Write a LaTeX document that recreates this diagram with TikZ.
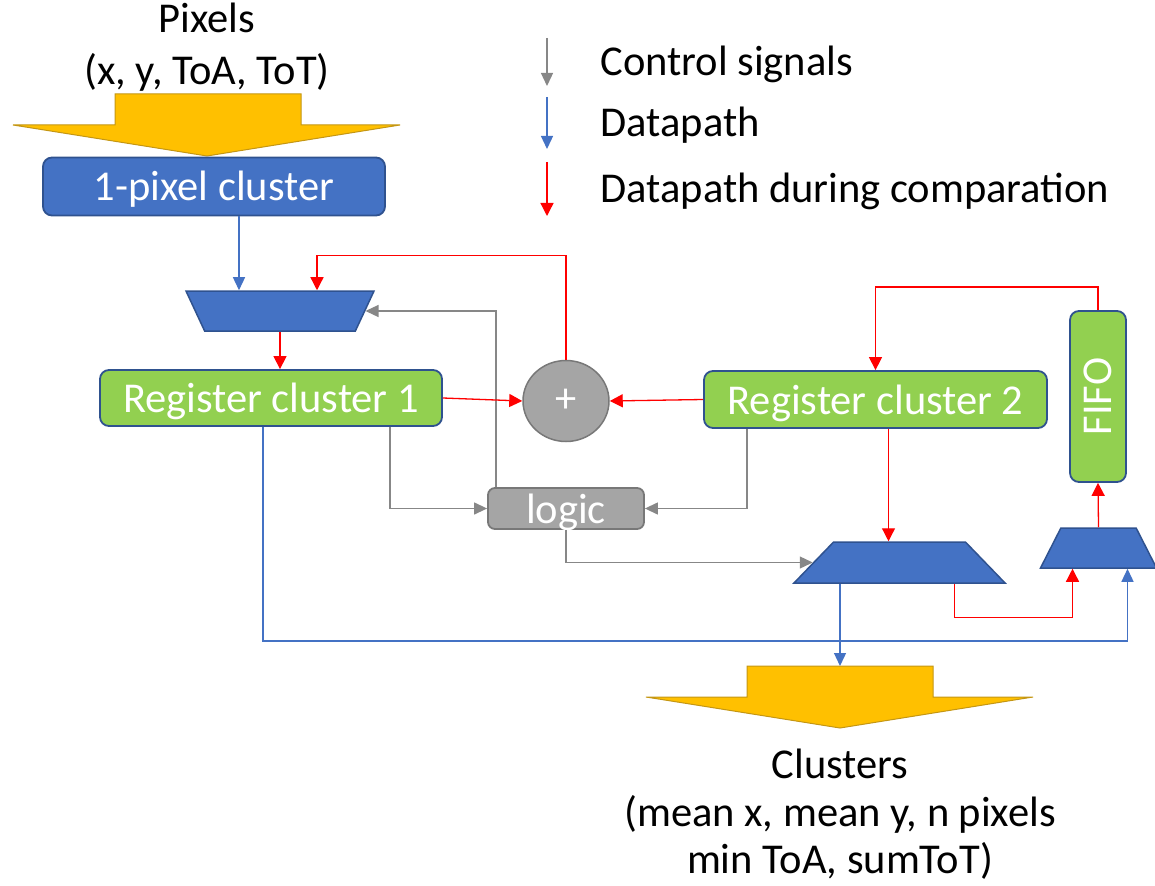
\documentclass[tikz,border=0pt]{standalone}
\usepackage{fontspec}
\setmainfont{Carlito}
\usepackage{graphicx}
\usepackage{tikz}
\usetikzlibrary{shapes.geometric,arrows.meta,positioning,calc}
\definecolor{myblue}{RGB}{68,114,196}
\definecolor{mydarkblue}{RGB}{47,82,143}
\definecolor{mygreen}{RGB}{146,208,80}
\definecolor{mygray}{RGB}{165,165,165}
\definecolor{mydarkgray}{RGB}{120,120,120}
\definecolor{mylinegray}{RGB}{135,135,135}
\definecolor{myyellow}{RGB}{255,192,0}
\definecolor{mydarkyellow}{RGB}{196,150,20}
\definecolor{myred}{RGB}{255,0,0}
\tikzstyle{boxtext}=[text height=35pt,text depth=6pt]
\tikzstyle{unit}=[draw=mydarkblue,fill=myblue,rounded corners=9pt,line width=1.8pt,text=white,inner sep=0pt,boxtext]
\tikzstyle{register}=[draw=mydarkblue,fill=mygreen,rounded corners=9pt,line width=1.8pt,text=white,inner sep=0pt]
\tikzstyle{logicbox}=[draw=mydarkgray,fill=mygray,rounded corners=7pt,line width=1.8pt,text=white,inner sep=0pt,boxtext]
\tikzstyle{mux}=[trapezium,trapezium stretches body,draw=mydarkblue,fill=myblue,line width=1.5pt,inner xsep=0pt,inner ysep=20pt]
\tikzstyle{control}=[draw=mylinegray,line width=1.3pt,-{Triangle[length=13pt,width=12pt]}]
\tikzstyle{datapath}=[draw=myblue,line width=1.3pt,-{Triangle[length=13pt,width=12pt]}]
\tikzstyle{compare}=[draw=myred,line width=1.3pt,-{Triangle[length=13pt,width=13pt]}]
\tikzstyle{bigarrow}=[fill=myyellow,draw=mydarkyellow,line width=1pt]

\begin{document}
\begin{tikzpicture}[x=1pt,y=-1pt,every node/.style={font=\fontsize{42.5}{51}\selectfont}]
\useasboundingbox (0,0) rectangle (1155,885);

% input and output arrows
\draw [bigarrow] (115,94) -- (301,94) -- (301,125) -- (400,125) -- (207,156) -- (13,125) -- (115,125) -- cycle;
\draw [bigarrow] (747,666) -- (933,666) -- (933,697) -- (1033,697) -- (840,728) -- (646,697) -- (747,697) -- cycle;
\coordinate (clusterin) at (840,666);
\node [anchor=base] (pixtitle) at (207,33) {Pixels};
\node [anchor=base] (pixfields) at (207,85) {(x, y, ToA, ToT)};
\node [anchor=base] (cltitle) at (840,778) {Clusters};
\node [anchor=base] (clfields1) at (840,826) {(mean x, mean y, n pixels};
\node [anchor=base] (clfields2) at (840,873) {min ToA, sumToT)};

% legend
\coordinate (ctrltop) at (547,38);
\coordinate (ctrlend) at (547,86);
\coordinate (datatop) at (547,97);
\coordinate (dataend) at (547,149);
\coordinate (cmptop) at (547,162);
\coordinate (cmpend) at (547,216);
\draw [control] (ctrltop) -- (ctrlend);
\draw [datapath] (datatop) -- (dataend);
\draw [compare] (cmptop) -- (cmpend);
\node [anchor=base west] (ctrllabel) at (597,76) {Control signals};
\node [anchor=base west] (datalabel) at (597,137) {Datapath};
\node [anchor=base west] (cmplabel) at (597,203) {Datapath during comparation};

% blocks
\node [unit,minimum width=342pt,minimum height=58pt] (onepix) at (214,186.5) {1-pixel cluster};
\node [mux,trapezium left angle=115,trapezium right angle=115,minimum width=188pt] (mux1) at (280,311) {};
\node [register,boxtext,minimum width=342pt,minimum height=56pt] (rc1) at (271,398) {Register cluster 1};
\node [ellipse,draw=mydarkgray,fill=mygray,line width=1.5pt,inner sep=0pt,minimum width=86pt,minimum height=81pt,text=white] (plus) at (566,401) {+};
\node [register,boxtext,minimum width=343pt,minimum height=57pt] (rc2) at (875.5,399.5) {Register cluster 2};
\node [register,minimum width=56pt,minimum height=171pt] (fifo) at (1098,396.5) {\rotatebox{90}{FIFO}};
\node [logicbox,minimum width=156pt,minimum height=39pt] (logic) at (566,508.5) {logic};
\node [mux,trapezium left angle=46,trapezium right angle=46,minimum width=211pt,inner ysep=20.5pt] (mux3) at (899.5,562.5) {};
\node [mux,trapezium left angle=63,trapezium right angle=63,minimum width=116pt] (mux2) at (1098.5,548) {};

% connections
\draw [datapath] ([xshift=25pt]onepix.south) -- ([xshift=25pt]onepix.south |- mux1.north);
\draw [compare] (plus.north) -- ++(0,-104) -| ([xshift=37pt]mux1.north);
\draw [control] ([xshift=-70pt]logic.north) |- (mux1.east);
\draw [compare] (mux1.south) -- (mux1.south |- rc1.north);
\draw [compare] (rc1.east) -- (plus.west);
\draw [compare] (rc2.west) -- (plus.east);
\draw [control] ([xshift=119pt]rc1.south) |- (logic.west);
\draw [control] ([xshift=-128.5pt]rc2.south) |- (logic.east);
\draw [control] (logic.south) |- (mux3.west);
\draw [compare] (fifo.north) -- ++(0,-23) -| (rc2.north);
\draw [compare] ([xshift=13pt]rc2.south) -- ([xshift=13pt]rc2.south |- mux3.north);
\draw [compare] ([xshift=55pt]mux3.south) -- ++(0,34) -| ([xshift=-26pt]mux2.south);
\draw [compare] (mux2.north) -- (fifo.south);
\draw [datapath] ([xshift=-8pt]rc1.south) -- ++(0,214) -| ([xshift=29pt]mux2.south);
\draw [datapath] ([xshift=-59.5pt]mux3.south) -- (clusterin);
\end{tikzpicture}
\end{document}
